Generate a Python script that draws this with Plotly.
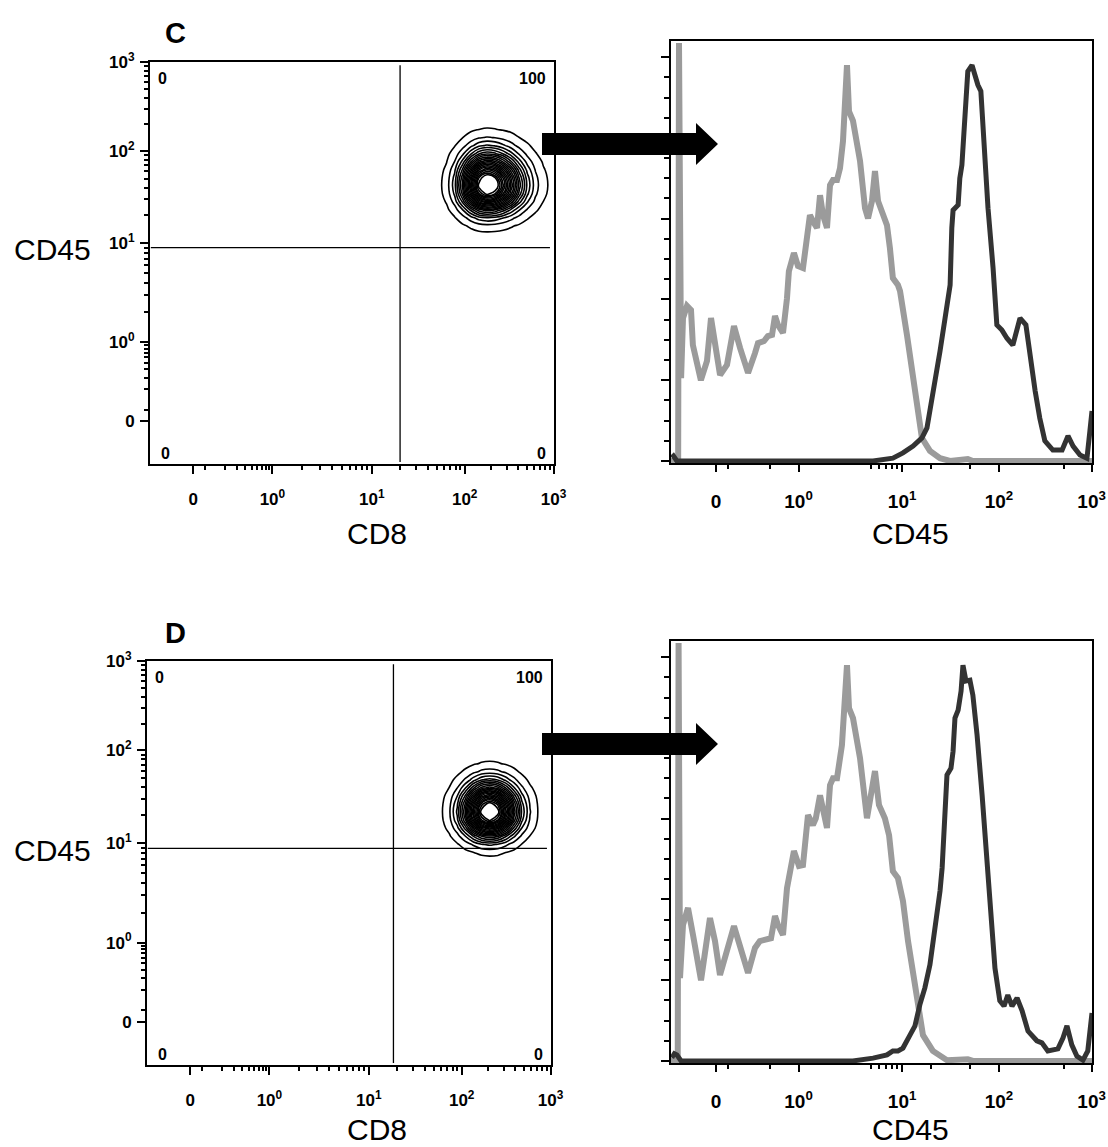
import numpy as np
import plotly.graph_objects as go

W, H = 1108, 1147
FONT = "Liberation Sans, Arial, sans-serif"

# ---------------------------------------------------------------------------
# Biexponential display scale: intensities are shown on a 0..1000 channel axis
# ---------------------------------------------------------------------------
ZERO_CHANNEL = 107
DECADE_CHANNEL = {0.1: 135, 1.0: 303, 10.0: 549, 100.0: 779, 1000.0: 999}


def to_channel(value):
    """Map a fluorescence intensity to its display channel."""
    if value <= 0:
        return ZERO_CHANNEL
    if value < 0.1:
        return ZERO_CHANNEL + (DECADE_CHANNEL[0.1] - ZERO_CHANNEL) * value / 0.1
    k = min(int(np.floor(np.log10(value) + 1e-9)), 2)
    lo, hi = 10.0 ** k, 10.0 ** (k + 1)
    return DECADE_CHANNEL[lo] + (DECADE_CHANNEL[hi] - DECADE_CHANNEL[lo]) * (np.log10(value) - k)


MAJOR_VALUES = [0, 1, 10, 100, 1000]
MAJOR_TEXT = ["0", "10<sup>0</sup>", "10<sup>1</sup>", "10<sup>2</sup>", "10<sup>3</sup>"]
DOT_MINOR_VALUES = ([0.1 * k for k in range(1, 10)] + list(range(2, 10))
                    + [10 * k for k in range(2, 10)] + [100 * k for k in range(2, 10)])
HIST_MINOR_VALUES = [0.1, 0.4, 5, 6, 7, 8, 9, 20, 50, 500]

# ---------------------------------------------------------------------------
# Contour plots (CD8 vs CD45): marginal event densities on the channel grid
# ---------------------------------------------------------------------------
cd8_grid_c = [674, 694, 714, 734, 754, 774, 794, 814, 834, 854, 874, 894, 914, 934, 954, 974, 994, 1014]
cd8_density_c = [0.0002, 0.0016, 0.0088, 0.037, 0.122, 0.31, 0.59, 0.88, 1.0, 0.93, 0.75, 0.53,
                 0.32, 0.169, 0.077, 0.031, 0.0105, 0.0031]
cd45_grid_c = [552, 572, 592, 612, 632, 652, 672, 692, 712, 732, 752, 772, 792, 812, 832, 852, 872, 892]
cd45_density_c = [0.0022, 0.011, 0.044, 0.135, 0.32, 0.61, 0.88, 1.0, 0.93, 0.74, 0.50, 0.29,
                  0.146, 0.063, 0.023, 0.0073, 0.002, 0.0005]

cd8_grid_d = [688, 708, 728, 748, 768, 788, 808, 828, 848, 868, 888, 908, 928, 948, 968, 988, 1008]
cd8_density_d = [0.0005, 0.0029, 0.0138, 0.051, 0.149, 0.34, 0.62, 0.89, 1.0, 0.90, 0.64, 0.37,
                 0.17, 0.063, 0.0186, 0.0044, 0.0008]
cd45_grid_d = [466, 486, 506, 526, 546, 566, 586, 606, 626, 646, 666, 686, 706, 726, 746, 766, 786, 806]
cd45_density_d = [0.0001, 0.0011, 0.0067, 0.031, 0.108, 0.29, 0.57, 0.87, 1.0, 0.90, 0.67, 0.40,
                  0.196, 0.078, 0.0255, 0.0068, 0.0015, 0.0003]

# quadrant gates (channels) and quadrant percentages
gate_cd8_c, gate_cd45_c = 619, 538
gate_cd8_d, gate_cd45_d = 610, 536
quadrant_pct_c = {"UL": "0", "UR": "100", "LL": "0", "LR": "0"}
quadrant_pct_d = {"UL": "0", "UR": "100", "LL": "0", "LR": "0"}

# ---------------------------------------------------------------------------
# CD45 histograms (% of max): isotype control (grey) and CD45 stain (dark)
# ---------------------------------------------------------------------------
iso_ch_c = [0, 5, 17, 19, 24, 28.5, 38, 47.5, 52, 71, 85.5, 95, 104.5, 116.5, 133, 149.6, 164, 183,
            199.5, 206.6, 221, 230, 240, 247, 254, 266, 275.5, 280, 292, 301.6, 313.5, 323, 330,
            339.6, 346.8, 354, 361, 370.5, 377.7, 384.8, 394.3, 401.4, 408.5, 418, 422.8, 432.3,
            449, 460.8, 468, 477.4, 484.5, 491.7, 503.6, 513, 520, 527, 539, 544, 560.5, 572.4,
            584, 596, 615, 639, 662.7, 705, 717, 1000]
iso_pct_c = [0, 0, 0, 103.5, 20.5, 35.4, 38.4, 37.4, 28.7, 20.0, 24.8, 35.4, 28.7, 21.3, 23.8, 33.4,
             28, 21.8, 26.7, 29.2, 29.7, 30.9, 31.2, 35.9, 33.7, 31.7, 40.3, 47, 51.5, 48.3, 47.8,
             54.5, 60.9, 58.9, 57.7, 65.8, 60.9, 57.7, 68.3, 69.6, 69.6, 72.5, 79.2, 98, 86.6, 84.2,
             74.3, 62.6, 60.1, 64.4, 71.8, 64.4, 60.9, 58.4, 52.7, 45.3, 43.6, 42.1, 31.2, 22.3,
             12.4, 5.7, 2.5, 0.7, 0, 0.5, 0, 0]
cd45_ch_c = [2, 6, 14, 456, 480, 527, 551, 575, 596, 608, 620, 627, 639, 651, 663, 667, 670, 682, 686,
             691, 698, 705, 715, 722, 729, 736, 741, 753, 765, 774, 786, 798, 812, 822, 829, 843,
             853, 865, 876, 888, 907, 929, 943, 955, 971.5, 988, 995, 1000]
cd45_pct_c = [0.8, 1.2, 0, 0, 0, 0.7, 2.0, 3.7, 5.7, 8.2, 15.6, 18.1, 27.2, 35.4, 43.6, 57.7, 62.1,
              63.4, 70, 73.3, 84.2, 96.5, 98, 95.5, 93.1, 91.6, 82.4, 62.6, 47.8, 33.7, 32.4, 30.4,
              28.7, 32.9, 35.4, 33.7, 25.5, 17.3, 10.6, 5.0, 2.7, 2.7, 6.2, 3.7, 1.5, 0.7, 7.4, 12.4]

iso_ch_d = [0, 5, 16, 18, 21.4, 28.5, 40.4, 52.3, 71.3, 92.6, 104.5, 116.4, 149.6, 183, 199.5, 211,
            228, 237.5, 247, 254, 266, 275.5, 292, 304, 313.5, 325.4, 337, 344, 354, 363, 370.5,
            377.7, 384.8, 394.3, 406, 418, 422.8, 432.3, 449, 465.5, 475, 484.5, 494, 508, 518,
            527, 539, 551, 563, 575, 587, 598.5, 622, 655.5, 705, 717, 1000]
iso_pct_d = [0, 0, 0, 103.5, 20.5, 33.7, 37.9, 31.2, 20.0, 35.4, 29.7, 21.3, 33.4, 21.8, 28, 29.7,
             30.4, 30.4, 35.9, 33.7, 31.2, 42.8, 52, 48.3, 48.5, 60.9, 58.4, 60.1, 65.8, 60.9, 57.7,
             68.3, 70, 70, 78.2, 98, 87.4, 84.9, 75, 60.1, 65.1, 71.8, 63.4, 60.1, 55.9, 47, 45.3,
             39.6, 29.7, 21.3, 13.1, 6.4, 2.5, 0.2, 0.4, 0, 0]
cd45_ch_d = [2, 8, 14, 24, 432, 480, 513, 527, 539, 551, 567.6, 579.5, 591, 603, 615, 627, 639, 644,
             651, 655.5, 665, 670, 674.5, 682, 689, 693.5, 700.6, 710, 717, 727, 739, 750.5, 762,
             769.5, 781, 791, 800, 810, 822, 834, 848, 869, 881, 895, 919, 931, 940.5, 952, 964,
             978.5, 990, 998, 1000]
cd45_pct_d = [0.8, 1.8, 1.5, 0, 0, 0.7, 1.5, 2.5, 2.5, 3.2, 6.4, 8.7, 13.9, 18.1, 23.8, 32.2, 42.1,
              47.8, 60.1, 70.8, 72.5, 76.7, 84.9, 86.9, 91.6, 98, 94.1, 94.3, 90.6, 80.7, 65.8, 49,
              33.7, 23, 14.9, 13.6, 16.3, 13.6, 15.6, 12.4, 7.4, 5.0, 4.5, 2.5, 3.0, 5.7, 8.7, 4.0,
              1.2, 0.2, 2.5, 11.4, 11.9]

ISO_COLOR = "#9b9b9b"
STAIN_COLOR = "#333333"

# ---------------------------------------------------------------------------
# Panel geometry (pixels in the 1108 x 1147 page)
# ---------------------------------------------------------------------------
def xdom(left, right):
    return [left / W, right / W]


def ydom(top, bottom):
    return [1 - bottom / H, 1 - top / H]


fig = go.Figure()

rows = [
    dict(letter="C", dot=("x", "y"), hist=("x2", "y2"),
         dot_x=xdom(150, 554), dot_y=ydom(62, 464), hist_x=xdom(671, 1092), hist_y=ydom(41, 463),
         grid=(cd8_grid_c, cd8_density_c, cd45_grid_c, cd45_density_c),
         gate=(gate_cd8_c, gate_cd45_c), quad=quadrant_pct_c,
         iso=(iso_ch_c, iso_pct_c), stain=(cd45_ch_c, cd45_pct_c), top=0, title_y=533),
    dict(letter="D", dot=("x3", "y3"), hist=("x4", "y4"),
         dot_x=xdom(147, 551), dot_y=ydom(661, 1065), hist_x=xdom(671, 1092), hist_y=ydom(641, 1063),
         grid=(cd8_grid_d, cd8_density_d, cd45_grid_d, cd45_density_d),
         gate=(gate_cd8_d, gate_cd45_d), quad=quadrant_pct_d,
         iso=(iso_ch_d, iso_pct_d), stain=(cd45_ch_d, cd45_pct_d), top=600, title_y=1129),
]

major_ch = [to_channel(v) for v in MAJOR_VALUES]
dot_minor_ch = [to_channel(v) for v in DOT_MINOR_VALUES]
hist_minor_ch = [to_channel(v) for v in HIST_MINOR_VALUES]

tick_font_dot = dict(family=FONT, size=17, color="black", weight="bold")
tick_font_hist = dict(family=FONT, size=19, color="black", weight="bold")

shapes = []
annotations = []


def axis_name(ref):
    return "xaxis" + ref[1:] if ref.startswith("x") else "yaxis" + ref[1:]


for row in rows:
    xa, ya = row["dot"]
    hxa, hya = row["hist"]
    gx, dx, gy, dy = row["grid"]
    off = row["top"]

    # contour plot
    fig.add_trace(go.Contour(
        x=gx, y=gy, z=np.outer(dy, dx),
        contours=dict(coloring="none", start=0.02, end=0.88, size=0.04),
        line=dict(color="black", width=1.6, smoothing=1.0),
        showscale=False, hoverinfo="skip", xaxis=xa, yaxis=ya,
    ))

    # histograms: isotype first, stained sample on top
    fig.add_trace(go.Scatter(
        x=row["iso"][0], y=row["iso"][1], mode="lines",
        line=dict(color=ISO_COLOR, width=6), hoverinfo="skip", xaxis=hxa, yaxis=hya,
    ))
    fig.add_trace(go.Scatter(
        x=row["stain"][0], y=row["stain"][1], mode="lines",
        line=dict(color=STAIN_COLOR, width=5), hoverinfo="skip", xaxis=hxa, yaxis=hya,
    ))

    common = dict(showline=True, linecolor="black", linewidth=2, mirror=True, automargin=False,
                  showgrid=False, zeroline=False, ticks="outside", tickcolor="black")

    fig.layout[axis_name(xa)] = dict(
        common, domain=row["dot_x"], anchor=ya, range=[0, 1000],
        tickmode="array", tickvals=major_ch, ticktext=MAJOR_TEXT,
        ticklen=8, tickwidth=2, tickfont=tick_font_dot, ticklabelstandoff=11,
        minor=dict(tickmode="array", tickvals=dot_minor_ch, ticks="outside",
                   ticklen=4, tickwidth=1.5, tickcolor="black"),
    )
    fig.layout[axis_name(ya)] = dict(
        common, domain=row["dot_y"], anchor=xa, range=[0, 1000],
        tickmode="array", tickvals=major_ch, ticktext=MAJOR_TEXT,
        ticklen=8, tickwidth=2, tickfont=tick_font_dot, ticklabelstandoff=2,
        minor=dict(tickmode="array", tickvals=dot_minor_ch, ticks="outside",
                   ticklen=4, tickwidth=1.5, tickcolor="black"),
    )
    fig.layout[axis_name(hxa)] = dict(
        common, domain=row["hist_x"], anchor=hya, range=[0, 1000], layer="below traces",
        tickmode="array", tickvals=major_ch, ticktext=MAJOR_TEXT,
        ticklen=7, tickwidth=2, tickfont=tick_font_hist, ticklabelstandoff=13,
        minor=dict(tickmode="array", tickvals=hist_minor_ch, ticks="outside",
                   ticklen=4, tickwidth=1.5, tickcolor="black"),
    )
    fig.layout[axis_name(hya)] = dict(
        common, domain=row["hist_y"], anchor=hxa, range=[-0.5, 104], layer="below traces",
        tickmode="array", tickvals=[0, 20, 40, 60, 80, 100], showticklabels=False,
        ticklen=8, tickwidth=2,
        minor=dict(tickmode="array", tickvals=[v for v in range(5, 105, 5) if v % 20],
                   ticks="outside", ticklen=5, tickwidth=1.5, tickcolor="black"),
    )

    # quadrant gates
    gate_x, gate_y = row["gate"]
    shapes.append(dict(type="line", xref=xa, yref=ya, x0=gate_x, x1=gate_x, y0=5, y1=992,
                       line=dict(color="black", width=1.3)))
    shapes.append(dict(type="line", xref=xa, yref=ya, x0=2, x1=990, y0=gate_y, y1=gate_y,
                       line=dict(color="black", width=1.3)))

    # quadrant percentages
    qfont = dict(family=FONT, size=16, color="black", weight="bold")
    for key, (qx, qy, xanchor) in {"UL": (15, 960, "left"), "UR": (985, 960, "right"),
                                   "LL": (22, 25, "left"), "LR": (985, 25, "right")}.items():
        annotations.append(dict(xref=xa, yref=ya, x=qx, y=qy, text=row["quad"][key],
                                showarrow=False, xanchor=xanchor, yanchor="middle", font=qfont))

    # panel letter and axis titles
    title_font = dict(family=FONT, size=30, color="black")
    annotations.append(dict(xref="paper", yref="paper", x=163 / W, y=1 - (33 + off) / H,
                            text=row["letter"], showarrow=False, xanchor="left", yanchor="middle",
                            font=dict(family=FONT, size=29, color="black", weight="bold")))
    annotations.append(dict(xref="paper", yref="paper", x=52 / W, y=1 - (250 + off) / H,
                            text="CD45", showarrow=False, xanchor="center", yanchor="middle",
                            font=title_font))
    annotations.append(dict(xref="paper", yref="paper", x=377 / W, y=1 - row["title_y"] / H,
                            text="CD8", showarrow=False, xanchor="center", yanchor="middle",
                            font=title_font))
    annotations.append(dict(xref="paper", yref="paper", x=910 / W, y=1 - row["title_y"] / H,
                            text="CD45", showarrow=False, xanchor="center", yanchor="middle",
                            font=title_font))

    # arrow from the gated population to its histogram
    def p(px, py):
        return f"{px / W:.5f},{1 - (py + off) / H:.5f}"

    path = ("M" + p(542, 133) + " L" + p(696, 133) + " L" + p(696, 123) + " L" + p(718, 144)
            + " L" + p(696, 165) + " L" + p(696, 155) + " L" + p(542, 155) + " Z")
    shapes.append(dict(type="path", xref="paper", yref="paper", path=path,
                       fillcolor="black", line=dict(color="black", width=0), layer="above"))

fig.update_layout(
    width=W, height=H, autosize=False,
    margin=dict(l=0, r=0, t=0, b=0, pad=0, autoexpand=False),
    paper_bgcolor="white", plot_bgcolor="white",
    showlegend=False,
    font=dict(family=FONT, color="black"),
    shapes=shapes, annotations=annotations,
)

fig.write_html("out.html", config={"displayModeBar": False})
